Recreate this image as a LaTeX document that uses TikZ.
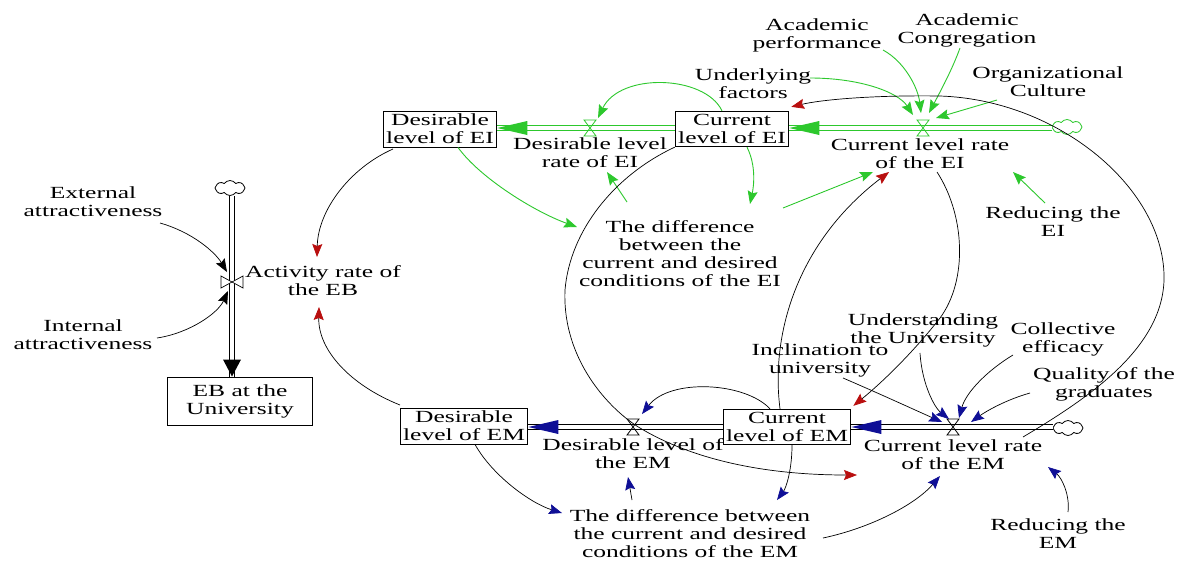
\documentclass[tikz,border=0pt]{standalone}
\usepackage{fontspec}
\setmainfont{Liberation Serif}[FakeStretch=1.5]
\usetikzlibrary{arrows.meta,calc,shapes.symbols}
\definecolor{eig}{RGB}{45,200,45}
\definecolor{emb}{RGB}{15,15,150}
\definecolor{lkr}{RGB}{185,15,15}
\begin{document}
\begin{tikzpicture}[x=1pt,y=-1pt,
  lbl/.style={font=\fontsize{17}{18}\selectfont, align=center, inner sep=0pt},
  stock/.style={lbl, draw, line width=0.9pt, inner sep=3pt, fill=white},
  cloudnode/.style={cloud, cloud puffs=8, cloud puff arc=110, aspect=2, draw, line width=0.8pt, minimum width=30pt, minimum height=15pt, inner sep=0pt},
  pipe/.style={line width=0.8pt, double=white, double distance=3.6pt},
  tipk/.style={Stealth[length=13pt,width=10pt,inset=2pt]},
  gk/.style={eig, line width=0.9pt, -{Stealth[length=13pt,width=10pt,inset=2pt]}},
  bk/.style={black, line width=0.7pt, -{Stealth[length=13pt,width=10pt,inset=2pt,color=emb]}},
  rk/.style={black, line width=0.7pt, -{Stealth[length=13pt,width=10pt,inset=2pt,color=lkr]}},
  kk/.style={black, line width=0.7pt, -{Stealth[length=13pt,width=10pt,inset=2pt]}},
]
\fill[white] (0,0) rectangle (1177,563);
\useasboundingbox (0,0) rectangle (1177,563);

% ---------- EB ----------
\node[lbl] (extattr) at (93,202) {External\\attractiveness};
\node[lbl] (intattr) at (83,335) {Internal\\attractiveness};
\node[lbl] (actrate) at (323,281) {Activity rate of\\the EB};
\node[stock, minimum width=145pt, minimum height=48pt] (eb) at (240,401) {EB at the\\University};
\node[cloudnode] (cEB) at (230,188) {};
\coordinate (vEB) at (232,282);
\draw[pipe, double distance=4.5pt] (cEB.south -| vEB) -- (eb.north -| vEB);
\fill (eb.north -| vEB) -- ++(-9,-17) -- ++(18,0) -- cycle;
\draw[line width=0.7pt, fill=white] ($(vEB)+(-11,-6)$) -- ++(0,12) -- ++(22,-12) -- ++(0,12) -- cycle;

% ---------- EI ----------
\node[stock] (desEI) at (440,129) {Desirable\\level of EI};
\node[stock] (curEI) at (732,129) {Current\\level of EI};
\coordinate (vEI2) at (590,128);
\coordinate (vEI1) at (923,128);
\node[cloudnode, draw=eig] (cEI) at (1067,127) {};
\draw[pipe, draw=eig] (cEI.west |- vEI1) -- (curEI.east |- vEI1);
\draw[pipe, draw=eig] (curEI.west |- vEI2) -- (desEI.east |- vEI2);
\fill[eig] (curEI.east |- vEI1) -- ++(30,-7) -- ++(0,14) -- cycle;
\fill[eig] (desEI.east |- vEI2) -- ++(30,-7) -- ++(0,14) -- cycle;
\draw[eig, line width=0.8pt] ($(vEI1)+(-6,-8)$) -- ++(12,0) -- ++(-12,16) -- ++(12,0) -- cycle;
\draw[eig, line width=0.8pt] ($(vEI2)+(-6,-8)$) -- ++(12,0) -- ++(-12,16) -- ++(12,0) -- cycle;

\node[lbl] (desEIrate) at (590,153) {Desirable level\\rate of EI};
\node[lbl] (curEIrate) at (920,154) {Current level rate\\of the EI};
\node[lbl] (diffEI) at (680,254) {The difference\\between the\\current and desired\\conditions of the EI};
\node[lbl] (acperf) at (817,35) {Academic\\performance};
\node[lbl] (accong) at (967,30) {Academic\\Congregation};
\node[lbl] (underlying) at (753,84) {Underlying\\factors};
\node[lbl] (orgcult) at (1048,82) {Organizational\\Culture};
\node[lbl] (reduceEI) at (1053,222) {Reducing the\\EI};

% ---------- EM ----------
\node[stock] (desEM) at (464,426) {Desirable\\level of EM};
\node[stock] (curEM) at (787,427) {Current\\level of EM};
\coordinate (vEM2) at (633,427);
\coordinate (vEM1) at (953,427);
\node[cloudnode] (cEM) at (1068,428) {};
\draw[pipe] (cEM.west |- vEM1) -- (curEM.east |- vEM1);
\draw[pipe] (curEM.west |- vEM2) -- (desEM.east |- vEM2);
\fill[emb] (curEM.east |- vEM1) -- ++(30,-7) -- ++(0,14) -- cycle;
\fill[emb] (desEM.east |- vEM2) -- ++(30,-7) -- ++(0,14) -- cycle;
\draw[line width=0.8pt] ($(vEM1)+(-6,-8)$) -- ++(12,0) -- ++(-12,16) -- ++(12,0) -- cycle;
\draw[line width=0.8pt] ($(vEM2)+(-6,-8)$) -- ++(12,0) -- ++(-12,16) -- ++(12,0) -- cycle;

\node[lbl] (desEMrate) at (633,454) {Desirable level of\\the EM};
\node[lbl] (curEMrate) at (953,455) {Current level rate\\of the EM};
\node[lbl] (diffEM) at (690,534) {The difference between\\the current and desired\\conditions of the EM};
\node[lbl] (inclination) at (820,360) {Inclination to\\university};
\node[lbl] (understanding) at (923,330) {Understanding\\the University};
\node[lbl] (collective) at (1063,339) {Collective\\efficacy};
\node[lbl] (quality) at (1104,384) {Quality of the\\graduates};
\node[lbl] (reduceEM) at (1058,534) {Reducing the\\EM};

% ---------- links: EB ----------
\draw[kk] ($(extattr)+(67,21)$) .. controls (192,232) and (215,252) .. ($(vEB)+(-5,-10)$);
\draw[kk] ($(intattr)+(74,3)$) .. controls (190,333) and (218,313) .. ($(vEB)+(-4,9)$);
\draw[rk] ($(desEI)+(-47,20)$) .. controls (350,168) and (318,210) .. ($(actrate)+(-6,-24)$);
\draw[rk] ($(desEM)+(-64,-21)$) .. controls (350,385) and (318,350) .. ($(actrate)+(-4,26)$);

% ---------- links: EI (green) ----------
\draw[gk] ($(underlying)+(57,-6)$) .. controls (860,78) and (898,92) .. ($(vEI1)+(-10,-13)$);
\draw[gk] ($(acperf)+(66,15)$) .. controls (905,62) and (918,88) .. ($(vEI1)+(-2,-15)$);
\draw[gk] ($(accong)+(-7,18)$) .. controls (952,70) and (940,92) .. ($(vEI1)+(6,-15)$);
\draw[gk] ($(orgcult)+(-51,18)$) -- ($(vEI1)+(13,-10)$);
\draw[gk] ($(reduceEI)+(-8,-19)$) -- ($(curEIrate)+(93,18)$);
\draw[gk] ($(diffEI)+(103,-46)$) -- ($(curEIrate)+(-47,18)$);
\draw[gk] ($(curEI.north)+(-10,0)$) .. controls (705,75) and (620,72) .. ($(vEI2)+(8,-10)$);
\draw[gk] ($(desEI.south)+(18,0)$) .. controls (480,178) and (535,212) .. ($(diffEI)+(-103,-27)$);
\draw[gk] ($(curEI.south)+(15,0)$) .. controls (756,165) and (754,185) .. ($(diffEI)+(70,-50)$);
\draw[gk] ($(diffEI)+(-53,-52)$) -- ($(desEIrate)+(17,19)$);

% ---------- cross links (red heads) ----------
\draw[rk] (curEI.south west) .. controls (615,175) and (570,230) .. (565,290)
  .. controls (562,360) and (610,410) .. (640,428)
  .. controls (690,458) and (760,475) .. ($(curEMrate)+(-96,20)$);
\draw[rk] ($(curEM.north)+(-7,0)$) .. controls (770,330) and (800,240) .. ($(curEIrate)+(-31,18)$);
\draw[rk] ($(curEIrate)+(17,18)$) .. controls (965,215) and (968,280) .. (940,318)
  .. controls (915,350) and (885,380) .. ($(curEM.north east)+(2,-3)$);
\draw[rk] ($(curEMrate)+(70,-18)$) .. controls (1085,400) and (1162,350) .. (1164,280)
  .. controls (1166,190) and (1060,100) .. (940,96)
  .. controls (870,95) and (820,100) .. ($(curEI.north east)+(2,-4)$);

% ---------- links: EM (blue heads) ----------
\draw[bk] ($(inclination)+(23,18)$) .. controls (878,393) and (915,410) .. ($(vEM1)+(-11,-5)$);
\draw[bk] ($(understanding)+(-3,23)$) .. controls (922,385) and (935,408) .. ($(vEM1)+(-4,-8)$);
\draw[bk] ($(collective)+(-50,16)$) .. controls (988,370) and (966,392) .. ($(vEM1)+(6,-9)$);
\draw[bk] ($(quality)+(-74,9)$) .. controls (1005,400) and (985,412) .. ($(vEM1)+(18,-5)$);
\draw[bk] ($(reduceEM)+(10,-22)$) .. controls (1070,495) and (1062,478) .. ($(curEMrate)+(95,12)$);
\draw[bk] ($(diffEM)+(133,4)$) .. controls (870,528) and (915,505) .. ($(curEMrate)+(-13,21)$);
\draw[bk] ($(curEM.south)+(5,0)$) .. controls (792,470) and (786,488) .. ($(diffEM)+(87,-34)$);
\draw[bk] ($(curEM.north)+(-17,0)$) .. controls (745,382) and (670,378) .. ($(vEM2)+(9,-13)$);
\draw[bk] ($(diffEM)+(-58,-34)$) -- ($(desEMrate)+(-5,23)$);
\draw[bk] ($(desEM.south)+(11,0)$) .. controls (492,475) and (530,503) .. ($(diffEM)+(-128,-21)$);
\end{tikzpicture}
\end{document}
